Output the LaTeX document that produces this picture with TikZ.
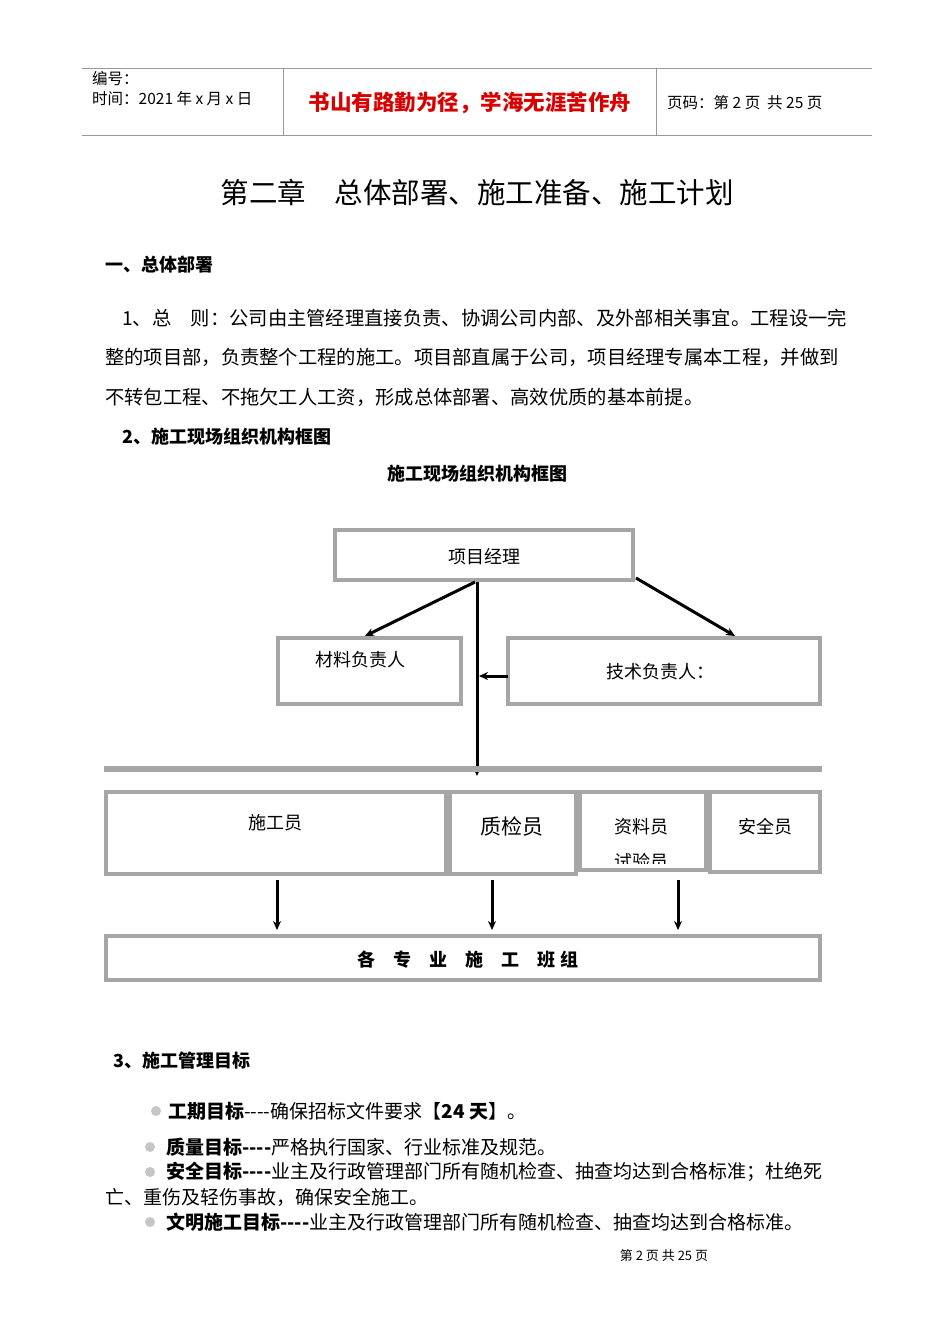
\documentclass[tikz,border=0pt]{standalone}
\usepackage{fontspec}
\setmainfont{Noto Sans CJK SC}
\usetikzlibrary{arrows.meta}
\newcommand{\fs}[1]{\fontsize{#1}{#1}\selectfont}
\newcommand{\dd}{{-}{-}{-}{-}}
\tikzset{
 gbox/.style={draw=gray!70,line width=4pt},
 txt/.style={inner sep=0pt,anchor=west},
 arr/.style={-{Stealth[length=9pt,width=8pt]},line width=3pt},
 bul/.style={fill=gray!45,draw=none,circle,minimum size=10pt,inner sep=0pt}
}
\begin{document}
\begin{tikzpicture}[x=1pt,y=-1pt]
\useasboundingbox[fill=white] (0,0) rectangle (950,1344);
% header
\draw[gray!80,line width=0.8pt] (82,68) -- (872,68) (82,135) -- (872,135) (283,68) -- (283,135) (656,68) -- (656,135);
\node[txt] (h1) at (92,79) {\fs{15.5}编号：};
\node[txt] (h2) at (92,99) {\fs{15.5}时间：2021 年 x 月 x 日};
\node (h3) at (470,103) {\fs{21.5}\bfseries\color{red!85!black}书山有路勤为径，学海无涯苦作舟};
\node[txt] (h4) at (667,103) {\fs{15.5}页码：第 2 页\ \ 共 25 页};
\node (title) at (477,192) {\fs{28.5}第二章\quad 总体部署、施工准备、施工计划};
\node[txt] (s1) at (105,265) {\fs{18}\bfseries 一、总体部署};
\node[txt] (p1) at (122,318) {\fs{19.3}1、总\quad 则：公司由主管经理直接负责、协调公司内部、及外部相关事宜。工程设一完};
\node[txt] (p2) at (105,357) {\fs{19.3}整的项目部，负责整个工程的施工。项目部直属于公司，项目经理专属本工程，并做到};
\node[txt] (p3) at (105,397) {\fs{19.3}不转包工程、不拖欠工人工资，形成总体部署、高效优质的基本前提。};
\node[txt] (s2) at (122,437) {\fs{18}\bfseries 2、施工现场组织机构框图};
\node (ct) at (477,474) {\fs{18}\bfseries 施工现场组织机构框图};
% diagram
\draw[gbox] (335,530) rectangle (633,580);
\node (pm) at (484,557) {\fs{18}项目经理};
\draw[gbox] (278,638) rectangle (461,704);
\node (cl) at (360,660) {\fs{18}材料负责人};
\draw[gbox] (508,638) rectangle (820,704);
\node (js) at (660,672) {\fs{18}技术负责人：};
\coordinate (a0) at (475,582); \coordinate (a1) at (365,636);
\coordinate (b0) at (636,578); \coordinate (b1) at (735,636);
\coordinate (c0) at (477,582); \coordinate (c1) at (477,776);
\coordinate (d0) at (508,676); \coordinate (d1) at (479,676);
\draw[arr] (a0) -- (a1);
\draw[arr] (b0) -- (b1);
\draw[arr] (c0) -- (c1);
\draw[arr] (d0) -- (d1);
\draw[gray!70,line width=6pt] (104,769) -- (822,769);
\draw[gbox] (106,792) rectangle (446,874);
\draw[gbox] (450,792) rectangle (576,874);
\draw[gbox] (580,792) rectangle (706,870);
\draw[gbox] (710,792) rectangle (820,872);
\node (sg) at (275,823) {\fs{18}施工员};
\node (zj) at (512,826) {\fs{21}质检员};
\node (zl) at (641,827) {\fs{18}资料员};
\begin{scope}
\clip (582,845) rectangle (704,863);
\node (sy) at (641,862) {\fs{18}试验员};
\end{scope}
\node (aq) at (765,827) {\fs{18}安全员};
\foreach \x/\n in {277/e,492/f,678/g}{
 \coordinate (\n0) at (\x,880); \coordinate (\n1) at (\x,930);
 \draw[arr] (\n0) -- (\n1);
}
\draw[gbox] (106,936) rectangle (820,980);
\node (bz) at (468,960) {\fs{18}\bfseries 各\quad 专\quad 业\quad 施\quad 工\quad 班 组};
% goals
\node[txt] (s3) at (113,1061) {\fs{18}\bfseries 3、施工管理目标};
\node[bul] (k1) at (156,1111) {};
\node[txt] (g1) at (168,1111) {\fs{19}\textbf{工期目标}\dd 确保招标文件要求【\textbf{24 天}】。};
\node[bul] (k2) at (150,1147) {};
\node[txt] (g2) at (166,1147) {\fs{19}\textbf{质量目标\dd}严格执行国家、行业标准及规范。};
\node[bul] (k3) at (150,1172) {};
\node[txt] (g3) at (166,1172) {\fs{19}\textbf{安全目标\dd}业主及行政管理部门所有随机检查、抽查均达到合格标准；杜绝死};
\node[txt] (g3b) at (105,1197) {\fs{19}亡、重伤及轻伤事故，确保安全施工。};
\node[bul] (k4) at (150,1222) {};
\node[txt] (g4) at (166,1222) {\fs{19}\textbf{文明施工目标\dd}业主及行政管理部门所有随机检查、抽查均达到合格标准。};
\node (ft) at (664,1256) {\fs{13}第 2 页 共 25 页};
\end{tikzpicture}
\end{document}
